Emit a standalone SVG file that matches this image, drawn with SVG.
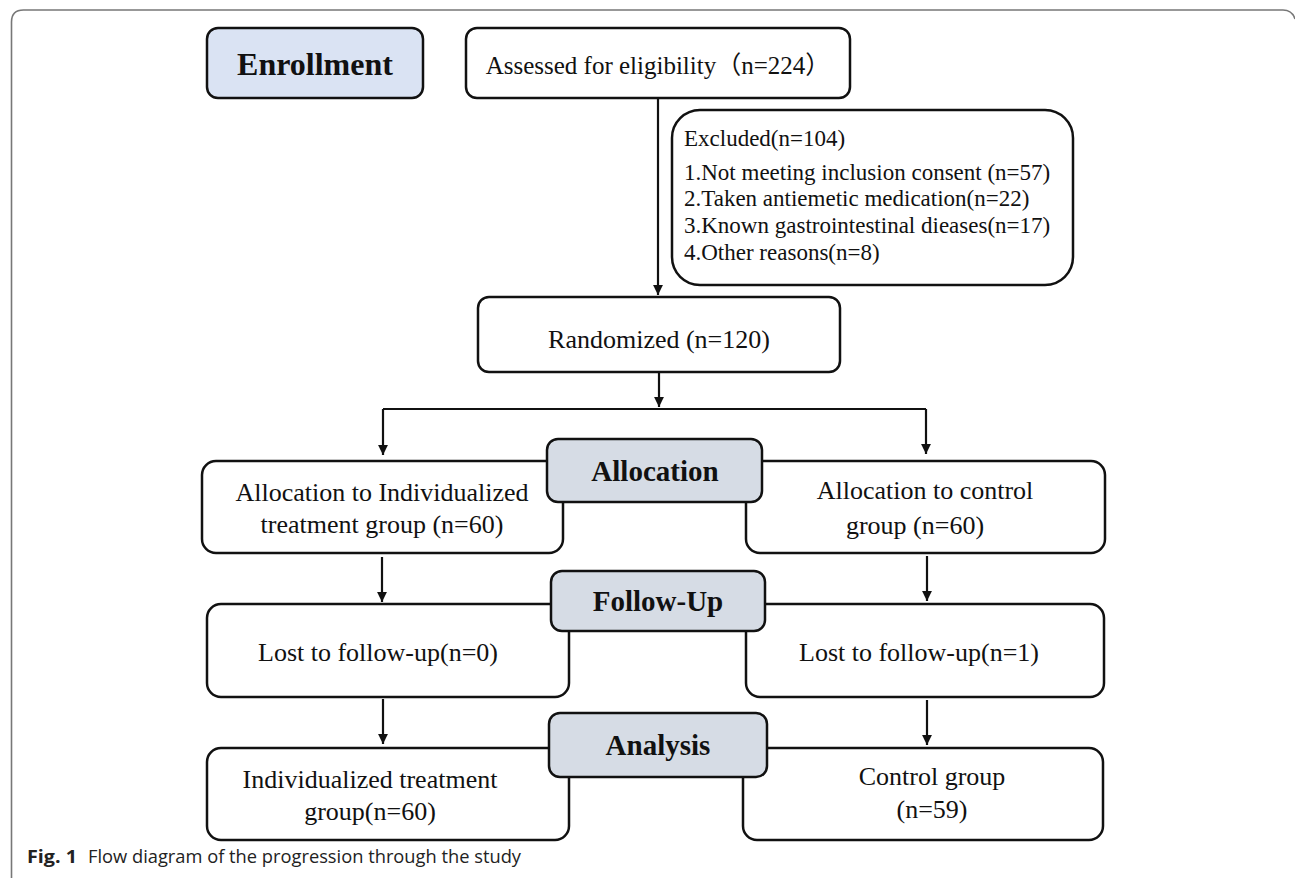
<svg xmlns="http://www.w3.org/2000/svg" width="1295" height="881" viewBox="0 0 1295 881">
<defs>
<style>
.box{fill:#fff;stroke:#111;stroke-width:2.5}
.lab{fill:#d6dce5;stroke:#111;stroke-width:2.5}
.enr{fill:#dae3f3;stroke:#111;stroke-width:2.5}
.t{font-family:"Liberation Serif","Noto Sans CJK SC",serif;font-size:26px;fill:#111;text-anchor:middle}
.tl{font-family:"Liberation Serif","Noto Sans CJK SC",serif;font-size:23px;fill:#111}
.b{font-family:"Liberation Serif",serif;font-size:29px;font-weight:bold;fill:#111;text-anchor:middle}
.c{fill:none;stroke:#111;stroke-width:2.2}
.cap{font-family:"Open Sans","Noto Sans",sans-serif;font-size:18.5px;fill:#222}
</style>
<marker id="ar" viewBox="0 0 10 10" refX="10" refY="5" markerWidth="4.5" markerHeight="4.5" orient="auto" markerUnits="strokeWidth">
<path d="M0,0 L10,5 L0,10 z" fill="#111"/>
</marker>
</defs>
<path d="M11.5,878 V22 Q11.5,10 23.5,10 H1283 Q1292,10 1295,19" fill="none" stroke="#777" stroke-width="1.6"/>
<g id="connectors">
<path class="c" d="M658,98 V295" marker-end="url(#ar)"/>
<path class="c" d="M659,372 V407" marker-end="url(#ar)"/>
<path class="c" d="M383,409 H926"/>
<path class="c" d="M383,409 V455" marker-end="url(#ar)"/>
<path class="c" d="M926,409 V454" marker-end="url(#ar)"/>
<path class="c" d="M382,557 V602" marker-end="url(#ar)"/>
<path class="c" d="M927,556 V601" marker-end="url(#ar)"/>
<path class="c" d="M383,699 V744" marker-end="url(#ar)"/>
<path class="c" d="M927,700 V745" marker-end="url(#ar)"/>
</g>
<g id="enrollment">
<rect class="enr" x="207" y="28" width="216" height="70" rx="11"/>
<text class="b" x="315" y="75" style="font-size:32px">Enrollment</text>
</g>
<g id="assessed">
<rect class="box" x="466" y="28" width="384" height="70" rx="11"/>
<text class="t" x="658" y="74" style="font-size:25px">Assessed for eligibility（n=224）</text>
</g>
<g id="excluded">
<rect class="box" x="672" y="110" width="401" height="175" rx="28"/>
<text class="tl" x="684" y="146">Excluded(n=104)</text>
<text class="tl" x="684" y="180">1.Not meeting inclusion consent (n=57)</text>
<text class="tl" x="684" y="206">2.Taken antiemetic medication(n=22)</text>
<text class="tl" x="684" y="233">3.Known gastrointestinal dieases(n=17)</text>
<text class="tl" x="684" y="260">4.Other reasons(n=8)</text>
</g>
<g id="randomized">
<rect class="box" x="478" y="297" width="362" height="75" rx="11"/>
<text class="t" x="659" y="348">Randomized (n=120)</text>
</g>
<g id="alloc-left">
<rect class="box" x="202" y="461" width="361" height="92" rx="14"/>
<text class="t" x="382" y="501">Allocation to Individualized</text>
<text class="t" x="382" y="533">treatment group (n=60)</text>
</g>
<g id="alloc-right">
<rect class="box" x="746" y="461" width="359" height="92" rx="14"/>
<text class="t" x="925" y="499">Allocation to control</text>
<text class="t" x="915" y="534">group (n=60)</text>
</g>
<g id="allocation">
<rect class="lab" x="547" y="439" width="215" height="63" rx="11"/>
<text class="b" x="655" y="481">Allocation</text>
</g>
<g id="lost-left">
<rect class="box" x="207" y="604" width="362" height="93" rx="14"/>
<text class="t" x="378" y="661">Lost to follow-up(n=0)</text>
</g>
<g id="lost-right">
<rect class="box" x="746" y="604" width="358" height="93" rx="14"/>
<text class="t" x="919" y="661">Lost to follow-up(n=1)</text>
</g>
<g id="followup">
<rect class="lab" x="551" y="571" width="214" height="60" rx="11"/>
<text class="b" x="658" y="611">Follow-Up</text>
</g>
<g id="final-left">
<rect class="box" x="207" y="748" width="362" height="92" rx="14"/>
<text class="t" x="370" y="788">Individualized treatment</text>
<text class="t" x="370" y="820">group(n=60)</text>
</g>
<g id="final-right">
<rect class="box" x="743" y="748" width="360" height="92" rx="14"/>
<text class="t" x="932" y="785">Control group</text>
<text class="t" x="932" y="818">(n=59)</text>
</g>
<g id="analysis">
<rect class="lab" x="549" y="713" width="218" height="64" rx="11"/>
<text class="b" x="658" y="755">Analysis</text>
</g>
<g id="caption">
<text class="cap" x="27" y="863" style="font-weight:bold" textLength="50" lengthAdjust="spacingAndGlyphs">Fig. 1</text>
<text class="cap" x="88" y="863" textLength="433" lengthAdjust="spacingAndGlyphs">Flow diagram of the progression through the study</text>
</g>
</svg>
